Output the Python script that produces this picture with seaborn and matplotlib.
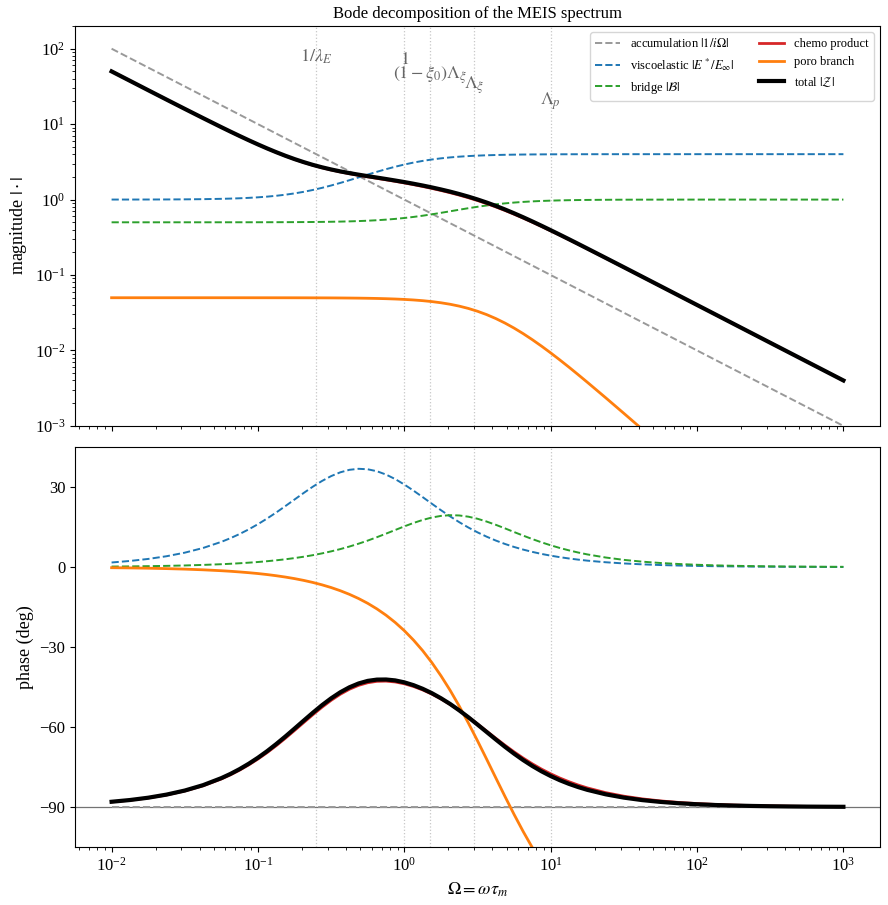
import matplotlib
matplotlib.use("Agg")
import matplotlib.pyplot as plt
import matplotlib.transforms as mtransforms
import seaborn as sns
import pandas as pd

plt.rcParams["font.family"] = ["Liberation Serif", "DejaVu Serif"]
plt.rcParams["mathtext.fontset"] = "stix"
plt.rcParams["axes.unicode_minus"] = True

# ---- data ----
omega = [0.01, 0.01334, 0.01778, 0.02371, 0.03162, 0.04217, 0.05623,
         0.06494, 0.07499, 0.0866, 0.1, 0.1155, 0.1334, 0.154, 0.1778,
         0.2054, 0.2371, 0.2738, 0.3162, 0.3652, 0.4217, 0.487, 0.5623,
         0.6494, 0.7499, 0.866, 1.0, 1.155, 1.334, 1.54, 1.778,
         2.054, 2.371, 2.738, 3.162, 3.652, 4.217, 4.87, 5.623,
         6.494, 7.499, 8.66, 10.0, 11.55, 13.34, 15.4,
         17.78, 23.71, 31.62, 42.17, 56.23, 74.99,
         100.0, 133.4, 177.8, 237.1, 316.2, 421.7, 562.3, 749.9, 1000.0]

omega_acc = [0.01, 1000.0]
acc_mag = [100.0, 0.001]
acc_phase = [-90.0, -90.0]

visco_mag = [1.0008, 1.0013, 1.0024, 1.0042, 1.0075, 1.0132, 1.0234,
             1.0310, 1.0411, 1.0543, 1.0717, 1.0943, 1.1234, 1.1608, 1.2082,
             1.2677, 1.3411, 1.4305, 1.5374, 1.6628, 1.8069, 1.9686, 2.1457,
             2.3344, 2.5296, 2.7254, 2.9155, 3.0939, 3.2559, 3.3986, 3.5208,
             3.6228, 3.7061, 3.7729, 3.8258, 3.8671, 3.8989, 3.9234, 3.9421,
             3.9563, 3.9671, 3.9752, 3.9814, 3.9860, 3.9895, 3.9921,
             3.9941, 3.9967, 3.9981, 3.9990, 3.9994, 3.9997,
             3.9998, 3.9999, 3.9999, 4.0, 4.0, 4.0, 4.0, 4.0, 4.0]
visco_phase = [1.72, 2.29, 3.05, 4.06, 5.40, 7.16, 9.46,
               10.85, 12.41, 14.16, 16.09, 18.21, 20.48, 22.88, 25.34,
               27.80, 30.15, 32.29, 34.12, 35.54, 36.48, 36.86, 36.68,
               35.95, 34.70, 33.01, 30.96, 28.68, 26.25, 23.78, 21.35,
               19.02, 16.85, 14.84, 13.03, 11.40, 9.95, 8.67, 7.54,
               6.55, 5.69, 4.93, 4.28, 3.71, 3.22, 2.79,
               2.41, 1.81, 1.36, 1.02, 0.76, 0.57,
               0.43, 0.32, 0.24, 0.18, 0.14, 0.10, 0.08, 0.06, 0.04]

bridge_mag = [0.5000, 0.5000, 0.5000, 0.5000, 0.5001, 0.5001, 0.5003,
              0.5004, 0.5005, 0.5006, 0.5008, 0.5011, 0.5015, 0.5020, 0.5026,
              0.5035, 0.5046, 0.5062, 0.5082, 0.5108, 0.5143, 0.5189, 0.5248,
              0.5325, 0.5423, 0.5547, 0.5701, 0.5889, 0.6113, 0.6375, 0.6671,
              0.6995, 0.7338, 0.7687, 0.8030, 0.8353, 0.8649, 0.8909, 0.9131,
              0.9317, 0.9469, 0.9590, 0.9685, 0.9760, 0.9818, 0.9862,
              0.9896, 0.9941, 0.9967, 0.9981, 0.9989, 0.9994,
              0.9997, 0.9998, 0.9999, 0.9999, 1.0, 1.0, 1.0, 1.0, 1.0]
bridge_phase = [0.19, 0.25, 0.34, 0.45, 0.60, 0.81, 1.07,
                1.24, 1.43, 1.65, 1.90, 2.20, 2.54, 2.92, 3.37,
                3.88, 4.46, 5.13, 5.89, 6.74, 7.70, 8.77, 9.93,
                11.20, 12.53, 13.90, 15.26, 16.54, 17.67, 18.58, 19.19,
                19.46, 19.36, 18.90, 18.12, 17.07, 15.85, 14.52, 13.14,
                11.79, 10.49, 9.28, 8.17, 7.16, 6.26, 5.46,
                4.75, 3.59, 2.70, 2.03, 1.53, 1.15,
                0.86, 0.64, 0.48, 0.36, 0.27, 0.20, 0.15, 0.11, 0.09]

chemo_mag = [50.04, 37.55, 28.18, 21.18, 15.93, 12.02, 9.104,
             7.944, 6.948, 6.095, 5.367, 4.748, 4.225, 3.784, 3.415,
             3.108, 2.854, 2.644, 2.471, 2.326, 2.204, 2.098, 2.003,
             1.914, 1.829, 1.746, 1.662, 1.578, 1.493, 1.407, 1.321,
             1.234, 1.147, 1.059, 0.9714, 0.8846, 0.7996, 0.7178, 0.6401,
             0.5676, 0.5009, 0.4402, 0.3856, 0.3369, 0.2937, 0.2557,
             0.2223, 0.1675, 0.1260, 0.09465, 0.07105, 0.0533,
             0.03998, 0.02999, 0.02249, 0.01687, 0.01265, 0.009485, 0.007113,
             0.005334, 0.004]
chemo_phase = [-88.09, -87.46, -86.61, -85.49, -84.00, -82.04, -79.47,
               -77.92, -76.16, -74.19, -72.00, -69.60, -66.98, -64.20, -61.29,
               -58.32, -55.39, -52.58, -49.99, -47.71, -45.82, -44.37, -43.39,
               -42.86, -42.78, -43.10, -43.78, -44.79, -46.08, -47.64, -49.46,
               -51.51, -53.80, -56.26, -58.86, -61.53, -64.21, -66.82, -69.32,
               -71.66, -73.82, -75.79, -77.55, -79.13, -80.52, -81.75,
               -82.83, -84.60, -85.94, -86.95, -87.71, -88.28,
               -88.71, -89.03, -89.28, -89.46, -89.59, -89.69, -89.77, -89.83,
               -89.87]

poro_mag = [0.05, 0.05, 0.05, 0.05, 0.05, 0.05, 0.04999,
            0.04999, 0.04999, 0.04998, 0.04997, 0.04996, 0.04995, 0.04994,
            0.04992, 0.04989, 0.04985, 0.0498, 0.04974, 0.04965, 0.04953,
            0.04938, 0.04918, 0.04891, 0.04855, 0.04809, 0.04749, 0.04671,
            0.04572, 0.04446, 0.04289, 0.04098, 0.03871, 0.03607, 0.03309,
            0.02987, 0.02649, 0.02309, 0.01979, 0.01669, 0.01388, 0.01141,
            0.009284, 0.007489, 0.006001, 0.004782,
            0.003796, 0.002369, 0.001467, 0.000905, 0.000557, 0.000342,
            0.00021, 0.000129, 7.9e-05, 4.84e-05, 2.97e-05, 1.82e-05,
            1.12e-05, 6.85e-06, 4.2e-06]
poro_phase = [-0.24, -0.32, -0.43, -0.58, -0.77, -1.03, -1.37,
              -1.58, -1.83, -2.11, -2.43, -2.81, -3.25, -3.75, -4.33,
              -5.00, -5.77, -6.66, -7.68, -8.87, -10.23, -11.80, -13.60,
              -15.68, -18.05, -20.77, -23.86, -27.38, -31.34, -35.79, -40.75,
              -46.20, -52.12, -58.47, -65.16, -72.07, -79.07, -86.02, -92.78,
              -99.23, -105.27, -110.85, -115.94, -120.52, -124.61, -128.25,
              -131.45, -136.72, -140.74, -143.79, -146.08, -147.81,
              -149.11, -150.08, -150.81, -151.36, -151.77, -152.08, -152.31,
              -152.48, -152.61]

total_mag = [50.04, 37.55, 28.19, 21.18, 15.94, 12.03, 9.114,
             7.956, 6.962, 6.111, 5.385, 4.768, 4.247, 3.809, 3.442,
             3.138, 2.886, 2.679, 2.508, 2.365, 2.244, 2.139, 2.045,
             1.958, 1.874, 1.790, 1.707, 1.622, 1.537, 1.451, 1.363,
             1.275, 1.185, 1.095, 1.004, 0.914, 0.8253, 0.7396, 0.6583,
             0.5825, 0.5128, 0.4496, 0.3929, 0.3425, 0.2981, 0.2590,
             0.2248, 0.1690, 0.1269, 0.09515, 0.07134, 0.05348,
             0.04009, 0.03005, 0.02253, 0.01689, 0.01266, 0.009494, 0.007118,
             0.005337, 0.004002]
total_phase = [-88.03, -87.38, -86.51, -85.35, -83.82, -81.80, -79.16,
               -77.57, -75.77, -73.75, -71.51, -69.05, -66.37, -63.54, -60.59,
               -57.59, -54.64, -51.81, -49.23, -46.96, -45.09, -43.66, -42.69,
               -42.21, -42.17, -42.51, -43.24, -44.29, -45.65, -47.28, -49.19,
               -51.34, -53.74, -56.33, -59.07, -61.87, -64.67, -67.41, -70.00,
               -72.42, -74.63, -76.62, -78.39, -79.96, -81.33, -82.52,
               -83.56, -85.23, -86.48, -87.41, -88.09, -88.60,
               -88.97, -89.25, -89.45, -89.60, -89.71, -89.79, -89.85, -89.89,
               -89.92]

marker_x = [0.25, 1.0, 1.5, 3.0, 10.0]
annot_x = [0.25, 1.0, 1.5, 3.0, 10.0]
annot_txt = [r"$1/\lambda_E$", r"$1$", r"$(1-\xi_0)\Lambda_\xi$",
             r"$\Lambda_\xi$", r"$\Lambda_p$"]
annot_y = [0.923, 0.915, 0.877, 0.853, 0.811]

df = pd.DataFrame({"omega": omega,
                   "visco_mag": visco_mag, "visco_phase": visco_phase,
                   "bridge_mag": bridge_mag, "bridge_phase": bridge_phase,
                   "chemo_mag": chemo_mag, "chemo_phase": chemo_phase,
                   "poro_mag": poro_mag, "poro_phase": poro_phase,
                   "total_mag": total_mag, "total_phase": total_phase})
df_acc = pd.DataFrame({"omega": omega_acc, "mag": acc_mag, "phase": acc_phase})

fig, (ax1, ax2) = plt.subplots(2, 1, sharex=True, figsize=(8.88, 9.05), dpi=100)
fig.subplots_adjust(left=75 / 888, right=880 / 888, top=1 - 26 / 905,
                    bottom=1 - 847 / 905, hspace=0.053)

for ax in (ax1, ax2):
    ax.set_xscale("log")
ax1.set_yscale("log")

for ax in (ax1, ax2):
    for xv in marker_x:
        ax.axvline(xv, color="0.78", ls=":", lw=0.9, zorder=0)
ax2.axhline(-90, color="0.45", lw=0.9, zorder=1)

series = [
    (df_acc, "mag", "phase", "0.6", "--", 1.4, r"accumulation $|1/i\Omega|$"),
    (df, "visco_mag", "visco_phase", "tab:blue", "--", 1.4, r"viscoelastic $|E^*/E_\infty|$"),
    (df, "bridge_mag", "bridge_phase", "tab:green", "--", 1.4, r"bridge $|\mathcal{B}|$"),
    (df, "chemo_mag", "chemo_phase", "tab:red", "-", 2.0, "chemo product"),
    (df, "poro_mag", "poro_phase", "tab:orange", "-", 2.0, "poro branch"),
    (df, "total_mag", "total_phase", "black", "-", 3.0, r"total $|\mathcal{Z}|$"),
]
for d, mcol, pcol, c, ls, lw, lab in series:
    sns.lineplot(data=d, x="omega", y=mcol, ax=ax1, color=c, linestyle=ls,
                 lw=lw, label=lab)
    sns.lineplot(data=d, x="omega", y=pcol, ax=ax2, color=c, linestyle=ls,
                 lw=lw, legend=False)

ax1.set_ylim(1e-3, 2e2)
ax2.set_ylim(-105, 45)
ax2.set_yticks([-90, -60, -30, 0, 30])
ax1.set_xlim(10 ** -2.25, 10 ** 3.25)

trans = mtransforms.blended_transform_factory(ax1.transData, ax1.transAxes)
for xv, t, yv in zip(annot_x, annot_txt, annot_y):
    ax1.text(xv, yv, t, transform=trans, ha="center", va="center",
             color="0.4", fontsize=13)

ax1.set_title("Bode decomposition of the MEIS spectrum", fontsize=12)
ax1.set_ylabel(r"magnitude $|\cdot|$", fontsize=13)
ax1.set_xlabel("")
ax2.set_ylabel("phase (deg)", fontsize=13)
ax2.set_xlabel(r"$\Omega = \omega\tau_m$", fontsize=13)
for ax in (ax1, ax2):
    ax.tick_params(labelsize=12)

ax1.legend(loc="upper right", ncol=2, fontsize=9, framealpha=0.8)

fig.savefig("out.png", dpi=100)
